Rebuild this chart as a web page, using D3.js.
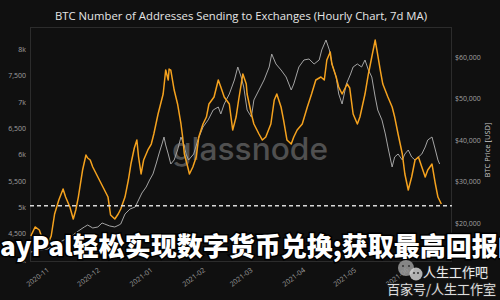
<!DOCTYPE html>
<html><head><meta charset="utf-8">
<script src="https://cdn.jsdelivr.net/npm/d3@7"></script>
<style>html,body{margin:0;padding:0;background:#101010;}svg{display:block;}</style>
</head><body>
<svg id="c" width="500" height="300"></svg>
<script>
// ---- data ----
const addrTimes=["2020-10-22 12","2020-10-25 00","2020-10-27 12","2020-10-29 12","2020-11-01 12","2020-11-03 12","2020-11-05 12","2020-11-08 00","2020-11-10 12","2020-11-12 00","2020-11-14 12","2020-11-16 12","2020-11-18 00","2020-11-19 12","2020-11-22 00","2020-11-24 00","2020-11-25 00","2020-11-26 12","2020-11-28 00","2020-12-01 00","2020-12-04 00","2020-12-07 00","2020-12-08 12","2020-12-11 00","2020-12-13 00","2020-12-14 12","2020-12-17 00","2020-12-19 00","2020-12-20 12","2020-12-22 12","2020-12-24 00","2020-12-25 00","2020-12-26 12","2020-12-28 00","2020-12-30 12","2021-01-01 12","2021-01-03 00","2021-01-05 12","2021-01-08 12","2021-01-10 00","2021-01-11 12","2021-01-12 00","2021-01-13 00","2021-01-15 00","2021-01-17 00","2021-01-19 00","2021-01-20 00","2021-01-21 00","2021-01-23 00","2021-01-24 00","2021-01-26 00","2021-01-28 00","2021-01-29 12","2021-02-01 00","2021-02-03 00","2021-02-04 12","2021-02-07 12","2021-02-10 00","2021-02-11 12","2021-02-13 12","2021-02-16 12","2021-02-18 12","2021-02-20 12","2021-02-22 00","2021-02-24 12","2021-02-26 12","2021-02-27 00","2021-03-01 12","2021-03-03 00","2021-03-06 00","2021-03-08 00","2021-03-10 00","2021-03-13 00","2021-03-15 00","2021-03-16 12","2021-03-19 00","2021-03-20 12","2021-03-22 12","2021-03-25 00","2021-03-26 12","2021-03-28 12","2021-03-31 12","2021-04-03 12","2021-04-06 00","2021-04-08 12","2021-04-11 12","2021-04-13 12","2021-04-15 00","2021-04-17 00","2021-04-18 00","2021-04-20 12","2021-04-22 00","2021-04-24 00","2021-04-27 00","2021-04-28 12","2021-04-30 12","2021-05-03 00","2021-05-04 12","2021-05-07 12","2021-05-09 12","2021-05-11 12","2021-05-13 12","2021-05-14 12","2021-05-16 12","2021-05-18 00","2021-05-21 00","2021-05-23 12","2021-05-25 00","2021-05-27 00","2021-05-29 12","2021-05-31 00","2021-06-02 00","2021-06-04 00","2021-06-06 00","2021-06-08 00","2021-06-10 00","2021-06-12 00","2021-06-13 12","2021-06-16 00","2021-06-18 00","2021-06-19 12","2021-06-21 12"];
const addrValues=[4455,4626,4569,4379,4303,4455,4872,5138,5346,5194,5005,4777,4948,5194,5706,5991,5934,5896,5763,5574,5384,5194,4853,4777,4872,4967,5194,5517,5820,6124,6275,5953,5631,5896,6086,6199,6389,6768,7147,7602,7413,7621,7602,7223,6958,6579,6332,6010,5763,5631,5763,5953,6332,6579,6711,6958,7090,7413,7280,7090,6958,6465,6711,7034,7527,7337,7147,6768,6579,6389,6275,6332,6579,7034,7147,6901,6654,6275,6199,6332,6465,6579,6901,7147,7413,7470,7413,7792,7944,7716,7470,7280,7147,7337,7261,6768,6579,6711,7147,7527,7849,8171,7982,7602,7337,7090,6901,6711,6389,6010,5631,5327,5574,5896,5953,5763,5574,5706,5820,5441,5194,5062];
const priceTimes=["2020-10-22 12","2020-10-28 00","2020-11-01 12","2020-11-06 12","2020-11-11 00","2020-11-15 12","2020-11-19 12","2020-11-23 00","2020-11-25 00","2020-11-28 00","2020-12-01 00","2020-12-03 12","2020-12-05 00","2020-12-08 00","2020-12-11 00","2020-12-13 12","2020-12-14 12","2020-12-17 00","2020-12-20 00","2020-12-23 00","2020-12-25 00","2020-12-27 00","2020-12-29 12","2020-12-31 12","2021-01-02 12","2021-01-04 12","2021-01-06 00","2021-01-08 00","2021-01-09 00","2021-01-10 00","2021-01-11 12","2021-01-13 00","2021-01-15 00","2021-01-17 00","2021-01-19 00","2021-01-21 00","2021-01-22 00","2021-01-23 12","2021-01-26 12","2021-01-29 00","2021-02-01 00","2021-02-04 00","2021-02-07 00","2021-02-10 00","2021-02-11 12","2021-02-13 12","2021-02-16 12","2021-02-19 12","2021-02-21 12","2021-02-23 12","2021-02-25 00","2021-02-27 00","2021-03-01 12","2021-03-03 00","2021-03-06 00","2021-03-09 00","2021-03-12 00","2021-03-13 12","2021-03-16 00","2021-03-19 00","2021-03-22 00","2021-03-25 00","2021-03-26 12","2021-03-29 12","2021-04-01 12","2021-04-04 12","2021-04-07 12","2021-04-10 12","2021-04-12 00","2021-04-14 12","2021-04-16 12","2021-04-18 00","2021-04-20 12","2021-04-22 00","2021-04-24 00","2021-04-26 12","2021-04-29 00","2021-04-30 12","2021-05-03 00","2021-05-05 12","2021-05-07 12","2021-05-09 12","2021-05-11 12","2021-05-13 12","2021-05-15 00","2021-05-17 12","2021-05-19 12","2021-05-21 00","2021-05-23 12","2021-05-25 00","2021-05-27 00","2021-05-29 12","2021-05-31 00","2021-06-02 00","2021-06-04 00","2021-06-06 00","2021-06-08 00","2021-06-10 00","2021-06-12 00","2021-06-13 12","2021-06-16 00","2021-06-18 00","2021-06-19 12","2021-06-20 12"];
const priceValues=[13012,13494,13735,14940,15904,16867,18072,19036,19518,18795,19036,20000,19759,19277,19036,19518,19759,22169,23373,23855,25542,27229,28675,30361,31807,34458,36626,39277,40723,38795,36626,34217,35181,37590,40723,38554,36626,35181,36626,40000,43133,44819,47229,47952,46265,48675,51084,54458,57590,55181,52771,47229,45542,49639,52048,54458,57590,60723,58313,56867,55181,52048,53494,57590,59277,59518,58313,59277,61687,64096,61687,58313,55181,51084,48675,53494,55904,57590,58313,57590,59277,56867,55181,50361,47229,44819,41446,38313,33494,35904,36626,35181,36626,37590,35904,35181,35904,36626,38313,40000,40723,37590,35181,34217];
const leftTickValues=[4000,4500,5000,5500,6000,6500,7000,7500,8000];
const leftTickLabels=["4k","4,500","5k","5,500","6k","6,500","7k","7,500","8k"];
const rightTickValues=[20000,30000,40000,50000,60000];
const rightTickLabels=["$20,000","$30,000","$40,000","$50,000","$60,000"];
const monthTicks=["2020-11-01 00","2020-12-01 00","2021-01-01 00","2021-02-01 00","2021-03-01 00","2021-04-01 00","2021-05-01 00","2021-06-01 00"];
const monthLabels=["2020-11","2020-12","2021-01","2021-02","2021-03","2021-04","2021-05","2021-06"];
const thresholdValue=5030;
const titleText="BTC Number of Addresses Sending to Exchanges (Hourly Chart, 7d MA)";
const rightAxisTitle="BTC Price [USD]";
const watermarkText="glassnode";
const overlayText="ayPal轻松实现数字货币兑换;获取最高回报的";
const badgeLine1="人生工作吧";
const badgeLine2="百家号/人生工作室";

// ---- chart ----
const parse=d3.utcParse("%Y-%m-%d %H");
const P={l:30,t:27,r:452,b:262};
const svg=d3.select("#c");
svg.append("rect").attr("width",500).attr("height",300).attr("fill","#101010");

const x=d3.scaleUtc().domain([parse("2020-10-22 00"),parse("2021-06-27 19")]).range([P.l,P.r]);
const yL=d3.scaleLinear().domain([3962,8418]).range([P.b,P.t]);
const yR=d3.scaleLinear().domain([10602,67228]).range([P.b,P.t]);

svg.append("defs").append("clipPath").attr("id","clip").append("rect")
  .attr("x",P.l).attr("y",P.t).attr("width",P.r-P.l).attr("height",P.b-P.t);

// frame
svg.append("rect").attr("x",P.l+0.5).attr("y",P.t+0.5).attr("width",P.r-P.l-1).attr("height",P.b-P.t-1)
  .attr("fill","none").attr("stroke","#2c2c2c").attr("stroke-width",1);

// title
svg.append("text").attr("x",(P.l+P.r)/2).attr("y",20).attr("text-anchor","middle")
  .attr("font-family","Open Sans").attr("font-size",11.5).attr("fill","#e6e6e6")
  .attr("textLength",372).attr("lengthAdjust","spacingAndGlyphs").text(titleText);

// watermark
svg.append("text").attr("x",172).attr("y",160).attr("font-family","Inter").attr("font-weight",500)
  .attr("font-size",31).attr("fill","#505050").attr("textLength",156).attr("lengthAdjust","spacingAndGlyphs")
  .text(watermarkText);

// axes
const axL=svg.append("g").attr("transform",`translate(${P.l},0)`)
  .call(d3.axisLeft(yL).tickValues(leftTickValues).tickFormat((d,i)=>leftTickLabels[i]).tickSize(0).tickPadding(4));
const axR=svg.append("g").attr("transform",`translate(${P.r},0)`)
  .call(d3.axisRight(yR).tickValues(rightTickValues).tickFormat((d,i)=>rightTickLabels[i]).tickSize(0).tickPadding(3));
const axB=svg.append("g").attr("transform",`translate(0,${P.b})`)
  .call(d3.axisBottom(x).tickValues(monthTicks.map(parse)).tickFormat((d,i)=>monthLabels[i]).tickSize(0));
[axL,axR,axB].forEach(a=>{a.select(".domain").remove();
  a.selectAll("text").attr("font-family","Open Sans").attr("font-size",7).attr("fill","#a0a0a0");});
axB.selectAll(".tick text").attr("text-anchor","end").attr("y",0).attr("dy","0.75em")
  .attr("transform","translate(-1,5) rotate(-37)");

svg.append("text").attr("transform",`translate(490,150) rotate(-90)`).attr("text-anchor","middle")
  .attr("font-family","Open Sans").attr("font-size",7.5).attr("fill","#c8c8c8").text(rightAxisTitle);

// lines
const g=svg.append("g").attr("clip-path","url(#clip)");
const priceData=priceTimes.map((t,i)=>({t:parse(t),v:priceValues[i]}));
const addrData=addrTimes.map((t,i)=>({t:parse(t),v:addrValues[i]}));
g.append("path").datum(priceData).attr("fill","none").attr("stroke","#a4a4a4").attr("stroke-width",1)
  .attr("d",d3.line().x(d=>x(d.t)).y(d=>yR(d.v)));
g.append("path").datum(addrData).attr("fill","none").attr("stroke","#f5a21e").attr("stroke-width",1.5)
  .attr("stroke-linejoin","round").attr("d",d3.line().x(d=>x(d.t)).y(d=>yL(d.v)));
g.append("line").attr("x1",P.l).attr("x2",P.r).attr("y1",yL(thresholdValue)).attr("y2",yL(thresholdValue))
  .attr("stroke","#d8d8d8").attr("stroke-width",1.5).attr("stroke-dasharray","4,3");

// overlay headline
svg.append("text").attr("x",0).attr("y",256).attr("font-family","Noto Sans CJK SC").attr("font-weight",900)
  .attr("font-size",26).attr("fill","#ffffff").attr("stroke","#000").attr("stroke-width",3)
  .attr("paint-order","stroke").text(overlayText);

// badge
const b=svg.append("g");
b.append("circle").attr("cx",406).attr("cy",268).attr("r",8).attr("fill","#9a9a9a").attr("opacity",0.85);
b.append("circle").attr("cx",416).attr("cy",274).attr("r",6.5).attr("fill","#cfcfcf").attr("opacity",0.85);
[[403,266],[409,266],[414,273],[418,273]].forEach(p=>b.append("circle").attr("cx",p[0]).attr("cy",p[1]).attr("r",1).attr("fill","#333"));
b.append("text").attr("x",423).attr("y",277).attr("font-family","Noto Sans CJK SC").attr("font-size",13)
  .attr("fill","#eeeeee").attr("stroke","#222").attr("stroke-width",1.5).attr("paint-order","stroke").text(badgeLine1);
b.append("text").attr("x",387).attr("y",294).attr("font-family","Noto Sans CJK SC").attr("font-size",13)
  .attr("fill","#dddddd").attr("stroke","#222").attr("stroke-width",1.5).attr("paint-order","stroke").text(badgeLine2);
</script>
</body></html>
